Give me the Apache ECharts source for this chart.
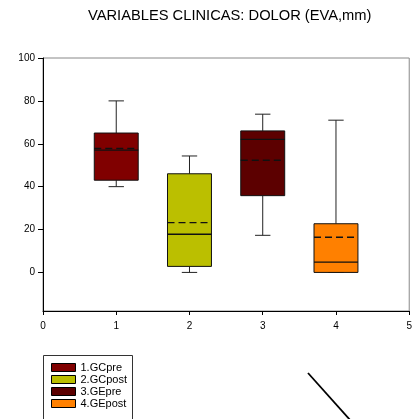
<!DOCTYPE html>
<html>
<head>
<meta charset="utf-8">
<script src="https://cdn.jsdelivr.net/npm/echarts@6/dist/echarts.min.js"></script>
<style>
  html, body { margin: 0; padding: 0; background: #fff; }
  #chart { width: 415px; height: 419px; }
</style>
</head>
<body>
<div id="chart"></div>
<script>
// grupos y estadisticos (EVA, mm)
const groupNames = ["1.GCpre", "2.GCpost", "3.GEpre", "4.GEpost"];
const groupX = [1, 2, 3, 4];
const whiskerLow = [40, 0, 17.3, 0];
const q1 = [43, 2.8, 35.8, 0];
const medians = [57, 17.8, 62, 4.8];
const q3 = [65, 46, 66, 22.7];
const whiskerHigh = [80, 54.3, 73.8, 71];
const means = [57.8, 23.2, 52.3, 16.4];
const yTicks = [0, 20, 40, 60, 80, 100];
const colors = ["#800000", "#bbbf00", "#5c0000", "#ff8000"];

const font = "Liberation Sans, Arial, sans-serif";
const myChart = echarts.init(document.getElementById("chart"));

const renderBox = (params, api) => {
  const x = api.value(0);
  const half = api.size([0.3, 0])[0];
  const cap = api.size([0.105, 0])[0];
  const pLow = api.coord([x, api.value(1)]);
  const pQ1 = api.coord([x, api.value(2)]);
  const pMed = api.coord([x, api.value(3)]);
  const pQ3 = api.coord([x, api.value(4)]);
  const pHigh = api.coord([x, api.value(5)]);
  const pMean = api.coord([x, api.value(6)]);
  const cx = pMed[0];
  const whisk = { stroke: "#222", lineWidth: 1 };
  return {
    type: "group",
    children: [
      { type: "line", shape: { x1: cx, y1: pHigh[1], x2: cx, y2: pQ3[1] }, style: whisk },
      { type: "line", shape: { x1: cx - cap, y1: pHigh[1], x2: cx + cap, y2: pHigh[1] }, style: whisk },
      { type: "line", shape: { x1: cx, y1: pLow[1], x2: cx, y2: pQ1[1] }, style: whisk },
      { type: "line", shape: { x1: cx - cap, y1: pLow[1], x2: cx + cap, y2: pLow[1] }, style: whisk },
      {
        type: "rect",
        shape: { x: cx - half, y: pQ3[1], width: half * 2, height: pQ1[1] - pQ3[1] },
        style: { fill: api.visual("color"), stroke: "#111", lineWidth: 1 }
      },
      { type: "line", shape: { x1: cx - half, y1: pMed[1], x2: cx + half, y2: pMed[1] }, style: { stroke: "#111", lineWidth: 1.3 } },
      { type: "line", shape: { x1: cx - half, y1: pMean[1], x2: cx + half, y2: pMean[1] }, style: { stroke: "#111", lineWidth: 1.3, lineDash: [7, 4] } }
    ]
  };
};

const series = groupNames.map((name, i) => ({
  name: name,
  type: "custom",
  renderItem: renderBox,
  itemStyle: { color: colors[i], borderColor: "#000", borderWidth: 1 },
  encode: { x: 0, y: [1, 2, 3, 4, 5] },
  data: [[groupX[i], whiskerLow[i], q1[i], medians[i], q3[i], whiskerHigh[i], means[i]]]
}));

const option = {
  animation: false,
  backgroundColor: "#fff",
  textStyle: { fontFamily: font },
  title: {
    text: "VARIABLES CLINICAS: DOLOR (EVA,mm)",
    left: 88,
    top: 8,
    padding: 0,
    textStyle: { fontFamily: font, fontSize: 14.7, fontWeight: "normal", color: "#000" }
  },
  grid: {
    left: 43,
    right: 1,
    top: 58,
    bottom: 108,
    show: true,
    borderColor: "#888",
    borderWidth: 1
  },
  xAxis: {
    type: "value",
    min: 0,
    max: 5,
    interval: 1,
    splitLine: { show: false },
    axisLine: { onZero: false, lineStyle: { color: "#000", width: 1 } },
    axisTick: { show: true, length: 4, lineStyle: { color: "#000" } },
    axisLabel: { color: "#000", fontSize: 10, margin: 10, showMaxLabel: true, fontFamily: font }
  },
  yAxis: {
    type: "value",
    min: -18,
    max: 100,
    splitLine: { show: false },
    axisLine: { show: true, onZero: false, lineStyle: { color: "#000", width: 1 } },
    axisTick: { show: true, length: 5, lineStyle: { color: "#000" }, customValues: yTicks },
    axisLabel: { color: "#000", fontSize: 10, margin: 8, fontFamily: font, customValues: yTicks }
  },
  legend: {
    orient: "vertical",
    left: 51,
    top: 362,
    height: 80,
    width: 80,
    icon: "rect",
    itemWidth: 24,
    itemHeight: 8,
    itemGap: 1,
    padding: 0,
    itemStyle: { borderColor: "#000", borderWidth: 1 },
    textStyle: { fontSize: 11, color: "#000", fontFamily: font, lineHeight: 8 },
    data: groupNames
  },
  graphic: [
    {
      // marco de la leyenda, sigue por debajo del borde
      type: "rect",
      shape: { x: 43.5, y: 355.5, width: 89, height: 80 },
      style: { fill: "none", stroke: "#333", lineWidth: 1 },
      z: 10
    },
    {
      type: "line",
      shape: { x1: 308, y1: 373, x2: 351, y2: 421 },
      style: { stroke: "#000", lineWidth: 1.8 }
    }
  ],
  series: series
};

option && myChart.setOption(option);
</script>
</body>
</html>
